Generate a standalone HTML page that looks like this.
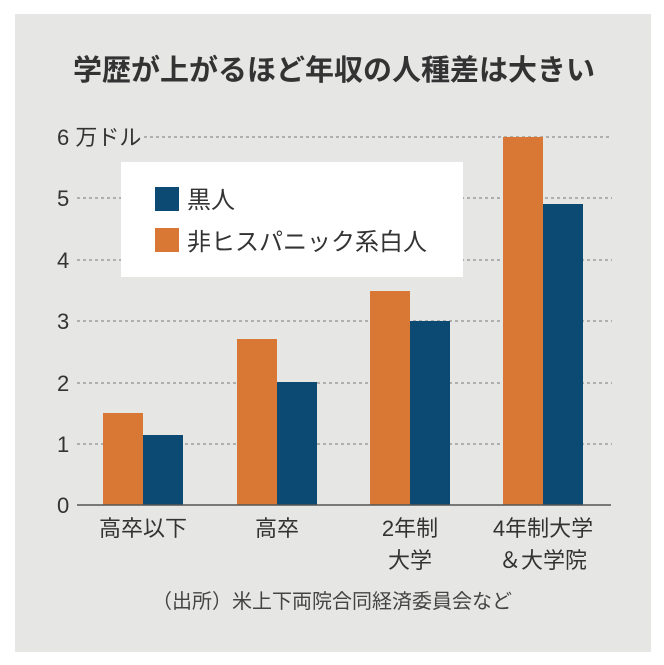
<!DOCTYPE html>
<html><head><meta charset="utf-8"><style>
html,body{margin:0;padding:0;background:#fff;}
svg{display:block;}
text{font-family:"Liberation Sans","Noto Sans CJK JP",sans-serif;}
</style></head><body>
<svg width="664" height="665" viewBox="0 0 664 665" xmlns="http://www.w3.org/2000/svg">
<rect x="15" y="14" width="636" height="638" fill="#e6e7e5"/>
<text x="334" y="80" text-anchor="middle" font-size="29" font-weight="bold" fill="#333">学歴が上がるほど年収の人種差は大きい</text>
<g stroke="#777" stroke-width="1" stroke-dasharray="3,3">
<line x1="144" y1="137" x2="612" y2="137"/>
<line x1="77" y1="198" x2="612" y2="198"/>
<line x1="77" y1="260" x2="612" y2="260"/>
<line x1="77" y1="321" x2="612" y2="321"/>
<line x1="77" y1="383" x2="612" y2="383"/>
<line x1="77" y1="444" x2="612" y2="444"/>
</g>
<g font-size="22" fill="#333">
<text x="57" y="145">6 万ドル</text>
<text x="57" y="206">5</text>
<text x="57" y="268">4</text>
<text x="57" y="329">3</text>
<text x="57" y="391">2</text>
<text x="57" y="452">1</text>
<text x="57" y="513">0</text>
</g>
<rect x="121" y="162" width="342" height="115" fill="#fff"/>
<rect x="155" y="187" width="24" height="24" fill="#0d4a73"/>
<rect x="155" y="228" width="24" height="24" fill="#d97835"/>
<text x="187" y="208" font-size="24" fill="#333">黒人</text>
<text x="187" y="250" font-size="24" fill="#333">非ヒスパニック系白人</text>
<g fill="#d97835">
<rect x="103" y="413" width="40" height="92"/>
<rect x="237" y="339" width="40" height="166"/>
<rect x="370" y="291" width="40" height="214"/>
<rect x="503" y="137" width="40" height="368"/>
</g>
<g fill="#0d4a73">
<rect x="143" y="435" width="40" height="70"/>
<rect x="277" y="382" width="40" height="123"/>
<rect x="410" y="321" width="40" height="184"/>
<rect x="543" y="204" width="40" height="301"/>
</g>
<line x1="77" y1="505" x2="611" y2="505" stroke="#555" stroke-width="1.5"/>
<g font-size="22" fill="#333" text-anchor="middle">
<text x="143" y="536">高卒以下</text>
<text x="277" y="536">高卒</text>
<text x="410" y="536">2年制</text>
<text x="410" y="568">大学</text>
<text x="543" y="536">4年制大学</text>
<text x="543" y="568">＆大学院</text>
</g>
<text x="332" y="608" font-size="20" fill="#444" text-anchor="middle">（出所）米上下両院合同経済委員会など</text>
</svg>
</body></html>
